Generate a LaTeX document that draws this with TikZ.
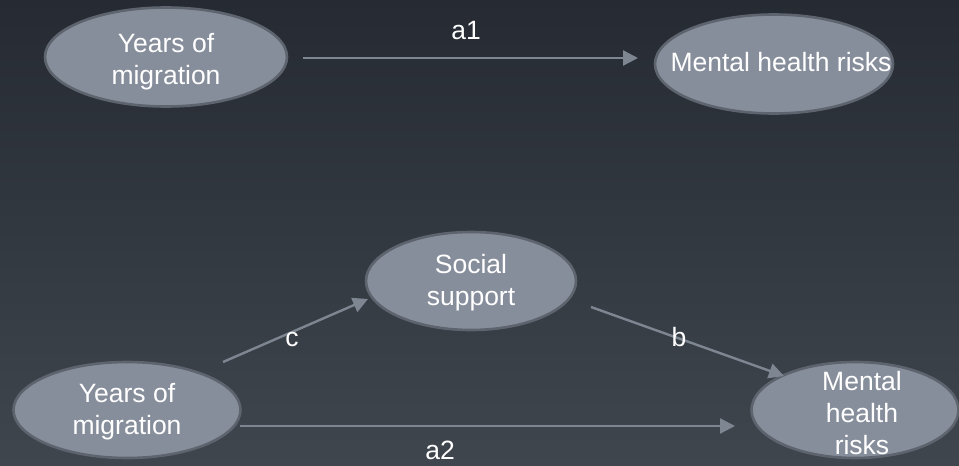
\documentclass[tikz,border=0pt]{standalone}
\usepackage{fontspec}
\setmainfont{Liberation Sans}
\usetikzlibrary{shapes.geometric,arrows.meta}
\definecolor{bgtop}{HTML}{262B33}
\definecolor{bgbot}{HTML}{3F464E}
\definecolor{ovalfill}{HTML}{878E9B}
\definecolor{ovaldraw}{HTML}{5E646E}
\definecolor{arrcol}{HTML}{7E8692}
\tikzset{
  oval/.style={ellipse, draw=ovaldraw, line width=2.6pt, fill=ovalfill, inner sep=0pt},
  lbl/.style={text=white, align=center, inner sep=0pt, font=\fontsize{26.5}{32}\selectfont},
  arr/.style={draw=arrcol, line width=2.4pt, -{Triangle[length=15pt,width=15pt]}},
}
\begin{document}
\begin{tikzpicture}[x=1pt,y=-1pt]
\shade[top color=bgtop, bottom color=bgbot] (0,0) rectangle (959,466);
\useasboundingbox (0,0) rectangle (959,466);
% top row
\node[oval, minimum width=242pt, minimum height=99pt] (y1) at (166,57) {};
\node[lbl] (y1t) at (166,62) {Years of\\migration};
\node[oval, minimum width=238pt, minimum height=99pt] (m1) at (774,64) {};
\node[lbl] (m1t) at (781,62) {Mental health risks};
\coordinate (a1s) at (303,58);
\coordinate (a1e) at (638,58);
\draw[arr] (a1s) -- (a1e);
\node[lbl] (a1) at (466,31) {a1};
% bottom
\node[oval, minimum width=210pt, minimum height=98pt] (ss) at (471,281) {};
\node[lbl] (sst) at (471,283) {Social\\support};
\node[oval, minimum width=227pt, minimum height=96pt] (y2) at (127,410) {};
\node[lbl] (y2t) at (127,412) {Years of\\migration};
\node[oval, minimum width=207pt, minimum height=96pt] (m2) at (855,410) {};
\node[lbl] (m2t) at (862,413) {Mental\\health\\risks};
\coordinate (cs) at (223,362);
\coordinate (ce) at (368,299);
\draw[arr] (cs) -- (ce);
\node[lbl] (c) at (292,339) {c};
\coordinate (bs) at (591,307);
\coordinate (be) at (784,376);
\draw[arr] (bs) -- (be);
\node[lbl] (b) at (679,337) {b};
\coordinate (a2s) at (240,426);
\coordinate (a2e) at (735,426);
\draw[arr] (a2s) -- (a2e);
\node[lbl] (a2) at (440,450) {a2};
\end{tikzpicture}
\end{document}
